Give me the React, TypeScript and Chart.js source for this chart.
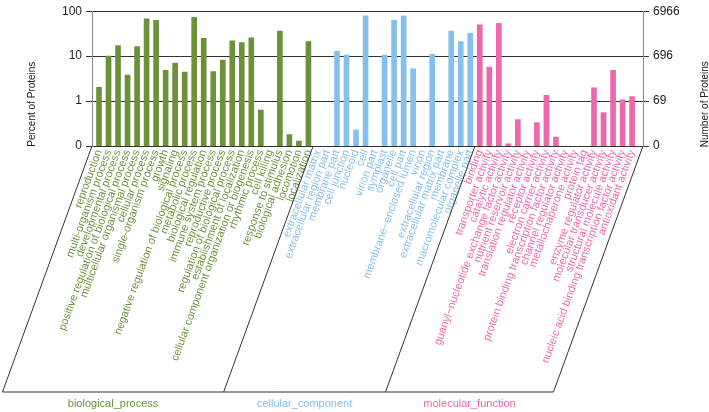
import React, { useEffect, useRef } from 'react';
import { Chart, registerables } from 'chart.js';

Chart.register(...registerables);

// ---------- data ----------
const bpCategories = [
  'reproduction', 'multi-organism process', 'developmental process',
  'positive regulation of biological process', 'multicellular organismal process',
  'cellular process', 'single-organism process', 'growth', 'signaling',
  'negative regulation of biological process', 'metabolic process',
  'biological regulation', 'immune system process', 'reproductive process',
  'regulation of biological process', 'establishment of localization',
  'cellular component organization or biogenesis', 'rhythmic process',
  'cell killing', 'response to stimulus', 'biological adhesion', 'locomotion',
  'localization',
];
const bpValues = [
  2.03, 10.0, 17.2, 3.79, 16.4, 67.4, 63, 4.85, 6.97, 4.4, 73, 25, 4.54, 8.2,
  22, 20, 25.5, 0.63, 0, 36, 0.18, 0.128, 21,
];

const ccCategories = [
  'extracellular matrix', 'extracellular region part', 'membrane part',
  'cell junction', 'nucleoid', 'cell', 'virion part', 'symplast', 'organelle',
  'cell part', 'membrane\u2212enclosed lumen', 'virion', 'extracellular region',
  'extracellular matrix part', 'membrane', 'macromolecular complex',
  'organelle part',
];
const ccValues = [
  0, 0, 12.8, 10.5, 0.23, 79, 0, 10.5, 63, 79, 5.2, 0, 10.9, 0, 36, 21, 32,
];

const mfCategories = [
  'binding', 'transporter activity', 'catalytic activity',
  'guanyl\u2212nucleotide exchange factor activity', 'nutrient reservoir activity',
  'translation regulator activity', 'receptor activity', 'electron carrier activity',
  'protein binding transcription factor activity', 'channel regulator activity',
  'metallochaperone activity', 'protein tag', 'enzyme regulator activity',
  'molecular transducer activity', 'structural molecule activity',
  'nucleic acid binding transcription factor activity', 'antioxidant activity',
];
const mfValues = [
  50, 5.7, 53.5, 0.112, 0.385, 0, 0.33, 1.35, 0.158, 0, 0, 0, 1.96, 0.553, 4.85,
  1.07, 1.26,
];

const groupNames = ['biological_process', 'cellular_component', 'molecular_function'];
const tickValues = [0.1, 1, 10, 100];
const leftTickLabels = ['0', '1', '10', '100'];
const rightTickLabels = ['0', '69', '696', '6966'];
const leftTitle = 'Percent of Proteins';
const rightTitle = 'Number of Proteins';

// ---------- styles ----------
const groupColors = ['#6b9239', '#85c0ea', '#ec68a9'];
const FONT = "'Liberation Sans', Arial, Helvetica, sans-serif";
const ANGLE = 70;
const BOX_DEPTH = 246;
const X_MIN = -0.735;
const X_MAX = 57.145;

const groups = [bpCategories, ccCategories, mfCategories];
const allCategories = [...bpCategories, ...ccCategories, ...mfCategories];
const allValues = [...bpValues, ...ccValues, ...mfValues];
const groupOf = (i: number) =>
  i < bpCategories.length ? 0 : i < bpCategories.length + ccCategories.length ? 1 : 2;

const decorPlugin = {
  id: 'decor',
  afterDraw(chart: any) {
    const { ctx, chartArea, scales } = chart;
    const x = scales.x;
    const top = chartArea.bottom;
    const bottom = top + BOX_DEPTH;
    const shift = BOX_DEPTH / Math.tan((ANGLE * Math.PI) / 180);
    const n1 = bpCategories.length;
    const n2 = n1 + ccCategories.length;
    const b1 = (x.getPixelForValue(n1 - 1) + x.getPixelForValue(n1)) / 2;
    const b2 = (x.getPixelForValue(n2 - 1) + x.getPixelForValue(n2)) / 2;
    const tops = [chartArea.left, b1, b2, chartArea.right];
    ctx.save();
    ctx.strokeStyle = '#333';
    ctx.lineWidth = 1;
    ctx.beginPath();
    tops.forEach((t) => {
      ctx.moveTo(t, top);
      ctx.lineTo(t - shift, bottom);
    });
    ctx.moveTo(tops[0] - shift, bottom);
    ctx.lineTo(tops[3] - shift, bottom);
    ctx.stroke();

    ctx.font = `11px ${FONT}`;
    ctx.textAlign = 'center';
    ctx.textBaseline = 'middle';
    groupNames.forEach((name, g) => {
      ctx.fillStyle = groupColors[g];
      const cx = (tops[g] + tops[g + 1]) / 2 - shift;
      ctx.fillText(name, cx, bottom + 12);
    });

    ctx.fillStyle = '#222';
    ctx.font = `10px ${FONT}`;
    const ty = chartArea.top + 93;
    [[32, leftTitle], [705, rightTitle]].forEach(([tx, txt]) => {
      ctx.save();
      ctx.translate(tx as number, ty);
      ctx.rotate(-Math.PI / 2);
      ctx.fillText(txt as string, 0, 0);
      ctx.restore();
    });
    ctx.restore();
  },
};

export default function App() {
  const ref = useRef<HTMLCanvasElement>(null);

  useEffect(() => {
    if (!ref.current) return;
    const data = allValues.map((v, i) => ({ x: i, y: v > 0 ? v : null }));
    const colors = allValues.map((_, i) => groupColors[groupOf(i)]);
    const tickFont = { family: FONT, size: 12 };

    const chart = new Chart(ref.current, {
      type: 'bar',
      data: {
        datasets: [
          {
            data: data as any,
            backgroundColor: colors,
            borderWidth: 0,
            barThickness: 5,
          },
        ],
      },
      plugins: [decorPlugin],
      options: {
        animation: false,
        responsive: false,
        events: [],
        layout: { padding: { top: 6, left: 0, right: 0, bottom: 0 } },
        plugins: { legend: { display: false }, tooltip: { enabled: false } },
        scales: {
          x: {
            type: 'linear',
            min: X_MIN,
            max: X_MAX,
            offset: false,
            grid: { display: false, drawTicks: false },
            border: { display: true, color: '#333' },
            afterBuildTicks: (s: any) => {
              s.ticks = allCategories.map((_, i) => ({ value: i }));
            },
            afterFit: (s: any) => {
              s.height = 266;
            },
            ticks: {
              autoSkip: false,
              minRotation: ANGLE,
              maxRotation: ANGLE,
              padding: 2,
              font: { family: FONT, size: 11 },
              color: (c: any) => groupColors[groupOf(c.index)],
              callback: (v: any) => allCategories[Math.round(Number(v))] ?? '',
            },
          },
          y: {
            type: 'logarithmic',
            position: 'left',
            min: 0.1,
            max: 100,
            afterBuildTicks: (s: any) => {
              s.ticks = tickValues.map((v) => ({ value: v }));
            },
            afterFit: (s: any) => {
              s.width = 92;
            },
            grid: { color: '#333', lineWidth: 1, tickLength: 6, drawTicks: true },
            border: { display: true, color: '#888' },
            ticks: {
              font: tickFont,
              color: '#222',
              padding: 4,
              callback: (v: any) => leftTickLabels[tickValues.indexOf(Number(v))] ?? '',
            },
          },
          y2: {
            type: 'logarithmic',
            position: 'right',
            min: 0.1,
            max: 100,
            afterBuildTicks: (s: any) => {
              s.ticks = tickValues.map((v) => ({ value: v }));
            },
            afterFit: (s: any) => {
              s.width = 66;
            },
            grid: { drawOnChartArea: false, color: '#333', tickLength: 6, drawTicks: true },
            border: { display: true, color: '#888' },
            ticks: {
              font: tickFont,
              color: '#222',
              padding: 4,
              callback: (v: any) => rightTickLabels[tickValues.indexOf(Number(v))] ?? '',
            },
          },
        },
      } as any,
    });
    return () => chart.destroy();
  }, []);

  return (
    <div style={{ position: 'absolute', left: 0, top: 0, width: 709, height: 412, background: '#fff' }}>
      <canvas ref={ref} width={709} height={412} style={{ display: 'block' }} />
    </div>
  );
}
